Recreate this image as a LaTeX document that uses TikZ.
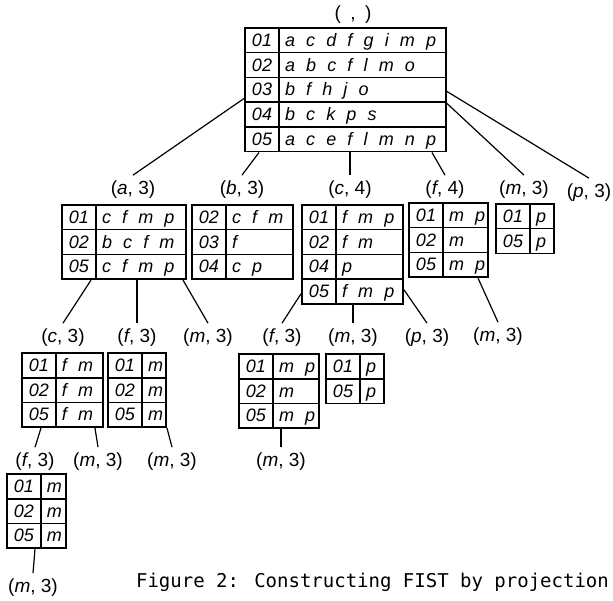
\documentclass[tikz,border=0pt]{standalone}
\usepackage{fontspec}
\newfontfamily\cellfam{Liberation Sans}
\newfontfamily\lblfam{Liberation Sans}
\newfontfamily\capfam{DejaVu Sans Mono}
\usetikzlibrary{matrix}
\tikzstyle{lbl} = [font=\lblfam\fontsize{19pt}{21pt}\selectfont, inner sep=1pt, outer sep=5pt]
\tikzstyle{capt} = [font=\capfam\fontsize{19pt}{22pt}\selectfont, inner sep=0pt]
\tikzstyle{conn} = [line width=1.2pt]
\tikzset{
  tbl/.style={matrix of nodes, inner sep=0pt, anchor=north west,
    column sep=-1.6pt, row sep=-1.6pt,
    nodes={draw, line width=1.6pt,
      font=\cellfam\itshape\fontsize{18pt}{20pt}\selectfont,
      inner xsep=6pt, inner ysep=2pt, minimum height=24.7pt,
      text height=14pt, text depth=2pt},
    column 1/.style={nodes={minimum width=34pt}},
    column 2/.style={nodes={text width=#1, align=left,
      execute at begin node={\leavevmode\hbox\bgroup\spaceskip=0.62em\relax},
      execute at end node=\egroup}}}
}

\begin{document}
\begin{tikzpicture}[x=1pt, y=-1pt]
	\useasboundingbox (0,0) rectangle (613,601);

	\node [lbl] (lRoot) at (353,15) {(\enspace,\enspace)};
	\matrix (tRoot) [tbl=155pt] at (244,27) {
		01 & a c d f g i m p \\
		02 & a b c f l m o \\
		03 & b f h j o \\
		04 & b c k p s \\
		05 & a c e f l m n p \\
	};

	\node [lbl] (lA) at (133,190) {(\textit{a}, 3)};
	\node [lbl] (lB) at (242,190) {(\textit{b}, 3)};
	\node [lbl] (lC) at (350,190) {(\textit{c}, 4)};
	\node [lbl] (lF) at (445,190) {(\textit{f}, 4)};
	\node [lbl] (lM) at (524,190) {(\textit{m}, 3)};
	\node [lbl] (lP) at (589,193) {(\textit{p}, 3)};

	\matrix (tA) [tbl=78pt] at (61,204) {
		01 & c f m p \\
		02 & b c f m \\
		05 & c f m p \\
	};
	\matrix (tB) [tbl=55pt] at (191,204) {
		02 & c f m \\
		03 & f \\
		04 & c p \\
	};
	\matrix (tC) [tbl=55pt] at (301,204) {
		01 & f m p \\
		02 & f m \\
		04 & p \\
		05 & f m p \\
	};
	\matrix (tF) [tbl=33pt] at (408,202) {
		01 & m p \\
		02 & m \\
		05 & m p \\
	};
	\matrix (tM) [tbl=12pt] at (495,203) {
		01 & p \\
		05 & p \\
	};

	\node [lbl] (lAC) at (63,338) {(\textit{c}, 3)};
	\node [lbl] (lAF) at (137,338) {(\textit{f}, 3)};
	\node [lbl] (lAM) at (208,338) {(\textit{m}, 3)};
	\node [lbl] (lCF) at (282,338) {(\textit{f}, 3)};
	\node [lbl] (lCM) at (353,338) {(\textit{m}, 3)};
	\node [lbl] (lCP) at (427,338) {(\textit{p}, 3)};
	\node [lbl] (lFM) at (498,337) {(\textit{m}, 3)};

	\matrix (tAC) [tbl=35pt] at (21,352) {
		01 & f m \\
		02 & f m \\
		05 & f m \\
	};
	\matrix (tAF) [tbl=12pt] at (107,352) {
		01 & m \\
		02 & m \\
		05 & m \\
	};
	\matrix (tCF) [tbl=34pt] at (238,353) {
		01 & m p \\
		02 & m \\
		05 & m p \\
	};
	\matrix (tCM) [tbl=12pt] at (325,353) {
		01 & p \\
		05 & p \\
	};

	\node [lbl] (lACF) at (35,462) {(\textit{f}, 3)};
	\node [lbl] (lACM) at (98,462) {(\textit{m}, 3)};
	\node [lbl] (lAFM) at (172,462) {(\textit{m}, 3)};
	\node [lbl] (lCFM) at (281,462) {(\textit{m}, 3)};

	\matrix (tACF) [tbl=13pt] at (6,473) {
		01 & m \\
		02 & m \\
		05 & m \\
	};

	\node [lbl] (lACFM) at (33,588) {(\textit{m}, 3)};

	\draw [conn] ([yshift=54pt]tRoot.south west) -- (lA.north);
	\draw [conn] ([xshift=15pt]tRoot.south west) -- (lB.north);
	\draw [conn] ([xshift=106pt]tRoot.south west) -- (lC.north);
	\draw [conn] ([xshift=-15pt]tRoot.south east) -- (lF.north);
	\draw [conn] ([yshift=49pt]tRoot.south east) -- (lM.north);
	\draw [conn] ([yshift=61pt]tRoot.south east) -- (lP.north);

	\draw [conn] ([xshift=30pt]tA.south west) -- (lAC.north);
	\draw [conn] ([xshift=76pt]tA.south west) -- (lAF.north);
	\draw [conn] ([xshift=-4pt]tA.south east) -- (lAM.north);
	\draw [conn] ([yshift=11pt]tC.south west) -- (lCF.north);
	\draw [conn] ([xshift=52pt]tC.south west) -- (lCM.north);
	\draw [conn] ([yshift=15pt]tC.south east) -- (lCP.north);
	\draw [conn] ([xshift=-11pt]tF.south east) -- (lFM.north);

	\draw [conn] ([xshift=20pt]tAC.south west) -- (lACF.north);
	\draw [conn] ([xshift=-9pt]tAC.south east) -- (lACM.north);
	\draw [conn] (tAF.south east) -- (lAFM.north);
	\draw [conn] ([xshift=43pt]tCF.south west) -- (lCFM.north);
	\draw [conn] ([xshift=29pt]tACF.south west) -- (lACFM.north);

	\node [capt] (cap) at (372.5,582) {Figure 2: Constructing FIST by projection};
\end{tikzpicture}
\end{document}
